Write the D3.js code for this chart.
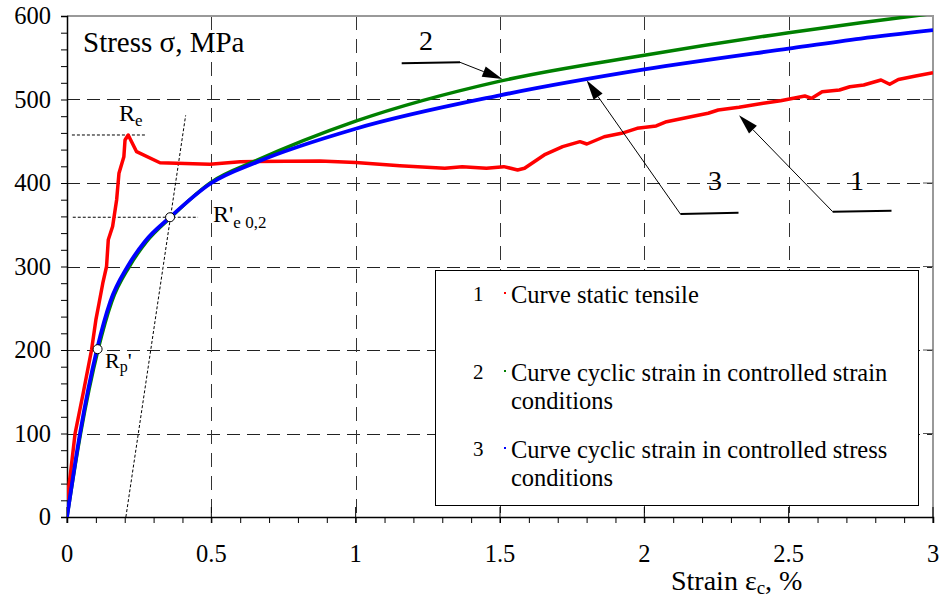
<!DOCTYPE html>
<html>
<head>
<meta charset="utf-8">
<script src="https://cdn.jsdelivr.net/npm/d3@7/dist/d3.min.js"></script>
<style>
  html, body { margin: 0; padding: 0; background: #fff; }
  svg { display: block; font-family: "Liberation Serif", "Times New Roman", serif; }
</style>
</head>
<body>
<svg id="chart" width="942" height="607"></svg>
<script>
// ---- data: strain (%) vs stress (MPa) ----
const staticTensile = [
  [0, 20], [0.012, 52], [0.028, 100], [0.057, 150], [0.085, 200], [0.1, 236],
  [0.111, 256], [0.124, 280], [0.137, 300], [0.143, 332], [0.158, 348],
  [0.172, 380], [0.18, 411.6], [0.197, 431.5], [0.201, 451.5], [0.212, 457.5],
  [0.241, 437.5], [0.322, 424.3], [0.495, 422.4], [0.6, 425.5], [0.876, 426.3],
  [1.0, 424.6], [1.153, 420.8], [1.309, 417.6], [1.369, 419.6], [1.453, 417.6],
  [1.513, 419.6], [1.561, 415.6], [1.585, 417.6], [1.657, 434.4], [1.717, 443.5],
  [1.777, 449.5], [1.801, 446.7], [1.861, 455.4], [1.921, 459.5], [1.975, 465.5],
  [2.041, 468.3], [2.077, 473.4], [2.161, 479.4], [2.221, 483.5], [2.256, 487.4],
  [2.328, 490.7], [2.412, 495.4], [2.472, 498.6], [2.556, 504.2], [2.58, 501.4],
  [2.616, 509.3], [2.676, 511.4], [2.712, 515.3], [2.76, 517.4], [2.82, 523.4],
  [2.85, 518.2], [2.88, 524], [2.94, 528.1], [3.0, 532.1]
];
const cyclicStrainControlled = [
  [0, 0], [0.047, 100], [0.108, 201], [0.155, 258], [0.216, 300], [0.276, 330],
  [0.36, 359], [0.5, 401], [0.657, 427], [1.0, 474], [1.5, 522], [2.0, 553],
  [2.5, 580], [2.75, 592], [3.0, 603]
];
const cyclicStressControlled = [
  [0, 0], [0.045, 100], [0.104, 201], [0.15, 258], [0.21, 300], [0.27, 330],
  [0.357, 359], [0.5, 400], [0.657, 425], [1.0, 465], [1.5, 505], [2.0, 536],
  [2.5, 561], [2.75, 573], [3.0, 583]
];

// characteristic points
const yieldPoint = [0.212, 457.5];        // Re
const cyclicYield = [0.357, 359];         // R'e 0,2
const cyclicProportional = [0.106, 201];  // Rp'
const offsetLine = [[0.204, 0], [0.411, 481]];

// axes
const xTicks = [0, 0.5, 1, 1.5, 2, 2.5, 3];
const xTickLabels = ["0", "0.5", "1", "1.5", "2", "2.5", "3"];
const yTicks = [0, 100, 200, 300, 400, 500, 600];
const yTickLabels = ["0", "100", "200", "300", "400", "500", "600"];

const legendItems = [
  { num: "1", lines: ["Curve static tensile"], color: "#ff0000" },
  { num: "2", lines: ["Curve cyclic strain in controlled strain", "conditions"], color: "#008000" },
  { num: "3", lines: ["Curve cyclic strain in controlled stress", "conditions"], color: "#0000ff" }
];

// ---- layout ----
const svg = d3.select("#chart");
const plotL = 67, plotR = 933, plotT = 16, plotB = 517;
const x = d3.scaleLinear().domain([0, 3]).range([plotL, plotR]);
const y = d3.scaleLinear().domain([0, 600]).range([plotB, plotT]);

svg.append("rect").attr("width", 942).attr("height", 607).attr("fill", "#fff");

svg.append("clipPath").attr("id", "plotClip")
  .append("rect").attr("x", plotL).attr("y", plotT)
  .attr("width", plotR - plotL).attr("height", plotB - plotT);

// grid
const grid = svg.append("g");
grid.selectAll("line.h").data(yTicks.filter(v => v > 0 && v < 600)).join("line")
  .attr("class", "h")
  .attr("x1", plotL).attr("x2", plotR)
  .attr("y1", d => Math.round(y(d)) + 0.5).attr("y2", d => Math.round(y(d)) + 0.5)
  .attr("stroke", "#222").attr("stroke-width", 1).attr("stroke-dasharray", "13,7");
grid.selectAll("line.v").data(xTicks.filter(v => v > 0 && v < 3)).join("line")
  .attr("class", "v")
  .attr("x1", d => Math.round(x(d)) + 0.5).attr("x2", d => Math.round(x(d)) + 0.5)
  .attr("y1", plotT).attr("y2", plotB)
  .attr("stroke", "#333").attr("stroke-width", 1).attr("stroke-dasharray", "14,9");

// frame top/right
svg.append("path")
  .attr("d", `M${plotL},${plotT}H${plotR}V${plotB}`)
  .attr("fill", "none").attr("stroke", "#999").attr("stroke-width", 2);

// left axis
const yMinor = d3.range(0, 601, 20);
const yAxis = svg.append("g").attr("transform", `translate(${plotL},0)`)
  .call(d3.axisLeft(y).tickValues(yMinor).tickSize(6).tickFormat(""));
yAxis.select(".domain").attr("stroke", "#000").attr("stroke-width", 1.5);
yAxis.selectAll(".tick line").attr("stroke", "#000");
svg.append("g").selectAll("text").data(yTicks).join("text")
  .attr("x", 51).attr("y", d => y(d) + 8)
  .attr("text-anchor", "end").attr("font-size", 24.5).attr("fill", "#000")
  .text((d, i) => yTickLabels[i]);
// right-side inward major ticks
svg.append("g").selectAll("line").data(yTicks.filter(v => v > 0 && v < 600)).join("line")
  .attr("x1", plotR - 10).attr("x2", plotR)
  .attr("y1", d => y(d)).attr("y2", d => y(d))
  .attr("stroke", "#555").attr("stroke-width", 1);

// bottom axis
const xMinor = d3.range(0, 31).map(i => i / 10);
const xAxis = svg.append("g").attr("transform", `translate(0,${plotB})`)
  .call(d3.axisBottom(x).tickValues(xMinor).tickSize(6).tickFormat(""));
xAxis.select(".domain").attr("stroke", "#000").attr("stroke-width", 1.5);
xAxis.selectAll(".tick line").attr("stroke", "#000");
svg.append("g").selectAll("line").data(xTicks).join("line")
  .attr("x1", d => x(d)).attr("x2", d => x(d))
  .attr("y1", plotB - 10).attr("y2", plotB + 6)
  .attr("stroke", "#000").attr("stroke-width", 1);
svg.append("g").selectAll("text").data(xTicks).join("text")
  .attr("x", d => x(d)).attr("y", plotB + 45)
  .attr("text-anchor", "middle").attr("font-size", 24.5).attr("fill", "#000")
  .text((d, i) => xTickLabels[i]);

// axis titles
svg.append("text").attr("x", 83).attr("y", 52)
  .attr("font-size", 29).attr("fill", "#000")
  .text("Stress σ, MPa");

const xTitle = svg.append("text").attr("x", 671).attr("y", 590)
  .attr("font-size", 28).attr("fill", "#000");
xTitle.append("tspan").text("Strain ε");
xTitle.append("tspan").attr("font-size", 19).attr("dy", 4).text("c");
xTitle.append("tspan").attr("dy", -4).text(", %");

// characteristic-point helper lines
const helpers = svg.append("g").attr("stroke", "#000").attr("stroke-width", 1)
  .attr("stroke-dasharray", "3,2").attr("fill", "none");
helpers.append("line")
  .attr("x1", x(0.017)).attr("x2", x(0.27))
  .attr("y1", y(yieldPoint[1])).attr("y2", y(yieldPoint[1]));
helpers.append("line")
  .attr("x1", x(0.02)).attr("x2", x(0.454))
  .attr("y1", y(cyclicYield[1])).attr("y2", y(cyclicYield[1]));
helpers.append("line")
  .attr("x1", x(offsetLine[0][0])).attr("y1", y(offsetLine[0][1]))
  .attr("x2", x(offsetLine[1][0])).attr("y2", y(offsetLine[1][1]));

// curves
const plot = svg.append("g").attr("clip-path", "url(#plotClip)");
const linear = d3.line().x(d => x(d[0])).y(d => y(d[1]));
const smooth = d3.line().x(d => x(d[0])).y(d => y(d[1])).curve(d3.curveMonotoneX);

plot.append("path").datum(staticTensile).attr("d", linear)
  .attr("fill", "none").attr("stroke", "#ff0000").attr("stroke-width", 3.5)
  .attr("stroke-linejoin", "round");
plot.append("path").datum(cyclicStrainControlled).attr("d", smooth)
  .attr("fill", "none").attr("stroke", "#008000").attr("stroke-width", 3.5);
plot.append("path").datum(cyclicStressControlled).attr("d", smooth)
  .attr("fill", "none").attr("stroke", "#0000ff").attr("stroke-width", 3.8);

// marked points
svg.append("g").selectAll("circle").data([cyclicYield, cyclicProportional]).join("circle")
  .attr("cx", d => x(d[0])).attr("cy", d => y(d[1])).attr("r", 4.5)
  .attr("fill", "#fff").attr("stroke", "#000").attr("stroke-width", 1);

// point labels
const re = svg.append("text").attr("x", 119).attr("y", 121).attr("font-size", 24);
re.append("tspan").text("R");
re.append("tspan").attr("font-size", 17).attr("dy", 5).text("e");

const re02 = svg.append("text").attr("x", 213).attr("y", 222).attr("font-size", 24);
re02.append("tspan").text("R'");
re02.append("tspan").attr("font-size", 17).attr("dy", 6).text("e 0,2");

const rp = svg.append("text").attr("x", 105).attr("y", 368).attr("font-size", 22);
rp.append("tspan").text("R");
rp.append("tspan").attr("font-size", 16).attr("dy", 4).text("p");
rp.append("tspan").attr("dy", -4).text("'");

// curve callouts
const callouts = [
  { num: "2", numX: 426, numY: 50, shelf: [[401.7, 63.3], [460, 62.3]], tip: [1.508, 524.6] },
  { num: "3", numX: 715, numY: 190, shelf: [[738.5, 212.7], [680.4, 214]], tip: [1.8, 523] },
  { num: "1", numX: 857, numY: 190, shelf: [[891.5, 210.7], [832.7, 211.7]], tip: [2.328, 481] }
];
const co = svg.append("g");
callouts.forEach(c => {
  co.append("text").attr("x", c.numX).attr("y", c.numY).attr("text-anchor", "middle")
    .attr("font-size", 28).text(c.num);
  co.append("line")
    .attr("x1", c.shelf[0][0]).attr("y1", c.shelf[0][1])
    .attr("x2", c.shelf[1][0]).attr("y2", c.shelf[1][1])
    .attr("stroke", "#000").attr("stroke-width", 2);
  const sx = c.shelf[1][0], sy = c.shelf[1][1];
  const tx = x(c.tip[0]), ty = y(c.tip[1]);
  const len = Math.hypot(tx - sx, ty - sy);
  const ux = (tx - sx) / len, uy = (ty - sy) / len;
  const hl = 20, hw = 5.5;
  const bx = tx - ux * hl, by = ty - uy * hl;
  co.append("line").attr("x1", sx).attr("y1", sy).attr("x2", bx).attr("y2", by)
    .attr("stroke", "#000").attr("stroke-width", 1);
  co.append("path")
    .attr("d", `M${tx},${ty}L${bx - uy * hw},${by + ux * hw}L${bx + uy * hw},${by - ux * hw}Z`)
    .attr("fill", "#000");
});

// legend
const lg = svg.append("g");
lg.append("rect").attr("x", 435.5).attr("y", 270.5).attr("width", 483).attr("height", 235)
  .attr("fill", "#fff").attr("stroke", "#000").attr("stroke-width", 1);
const legendRows = [302, 380, 457];
legendItems.forEach((item, i) => {
  const by = legendRows[i];
  lg.append("text").attr("x", 473).attr("y", by - 1).attr("font-size", 21).text(item.num);
  lg.append("rect").attr("x", 504).attr("y", by - 10).attr("width", 2).attr("height", 2)
    .attr("fill", item.color);
  item.lines.forEach((ln, j) => {
    lg.append("text").attr("x", 511).attr("y", by + 1 + j * 28).attr("font-size", 24.5).text(ln);
  });
});
</script>
</body>
</html>
